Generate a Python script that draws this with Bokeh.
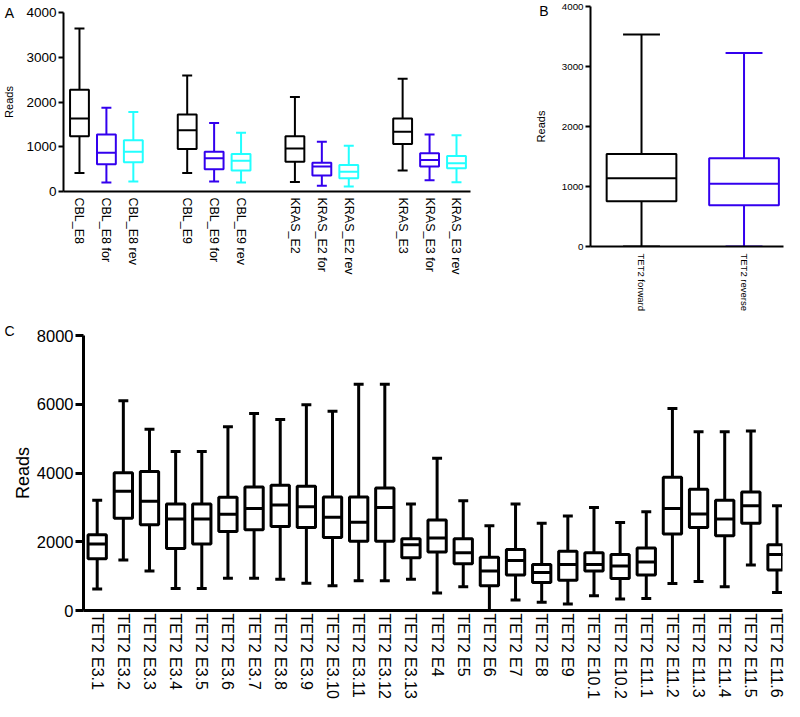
import numpy as np
from bokeh.plotting import figure
from bokeh.models import ColumnDataSource, FixedTicker, Range1d, GridBox
from bokeh.core.properties import value
from bokeh.layouts import column, row
from bokeh.embed import file_html
from bokeh.resources import INLINE

FONT = "Liberation Sans"

# ---------------- Panel A data ----------------
a_labels = ["CBL_E8", "CBL_E8 for", "CBL_E8 rev",
            "CBL_E9", "CBL_E9 for", "CBL_E9 rev",
            "KRAS_E2", "KRAS_E2 for", "KRAS_E2 rev",
            "KRAS_E3", "KRAS_E3 for", "KRAS_E3 rev"]
a_low = [415, 200, 222, 415, 222, 200, 215, 126, 111, 467, 252, 207]
a_q1 = [1237, 607, 652, 948, 496, 467, 667, 356, 296, 1059, 556, 519]
a_med = [1630, 867, 889, 1370, 741, 689, 963, 556, 444, 1333, 704, 630]
a_q3 = [2274, 1274, 1148, 1719, 889, 837, 1237, 644, 593, 1630, 852, 793]
a_high = [3644, 1874, 1778, 2593, 1533, 1311, 2111, 1111, 1022, 2519, 1274, 1259]
a_palette = ["#000000", "#3300ee", "#22ffff"]

# ---------------- Panel B data ----------------
b_labels = ["TET2 forward", "TET2 reverse"]
b_low = [0, 0]
b_q1 = [754, 688]
b_med = [1139, 1045]
b_q3 = [1541, 1469]
b_high = [3532, 3224]
b_palette = ["#000000", "#3300ee"]

# ---------------- Panel C data ----------------
c_labels = ["TET2 E3.1", "TET2 E3.2", "TET2 E3.3", "TET2 E3.4", "TET2 E3.5",
            "TET2 E3.6", "TET2 E3.7", "TET2 E3.8", "TET2 E3.9", "TET2 E3.10",
            "TET2 E3.11", "TET2 E3.12", "TET2 E3.13", "TET2 E4", "TET2 E5",
            "TET2 E6", "TET2 E7", "TET2 E8", "TET2 E9", "TET2 E10.1",
            "TET2 E10.2", "TET2 E11.1", "TET2 E11.2", "TET2 E11.3", "TET2 E11.4",
            "TET2 E11.5", "TET2 E11.6"]
c_low = [623, 1466, 1150, 642, 642, 939, 939, 910, 795, 719, 862, 862, 910,
         510, 690, 0, 307, 240, 192, 431, 335, 350, 786, 843, 690, 1322, 527]
c_q1 = [1504, 2683, 2491, 1801, 1935, 2299, 2347, 2443, 2414, 2127, 2012, 2012,
        1533, 1705, 1360, 719, 1035, 814, 881, 1150, 929, 1035, 2223, 2414,
        2175, 2539, 1178]
c_med = [1935, 3468, 3181, 2664, 2664, 2798, 2970, 3066, 3018, 2711, 2568, 2999,
         1916, 2108, 1677, 1150, 1456, 1102, 1341, 1341, 1293, 1408, 2970, 2807,
         2664, 3047, 1629]
c_q3 = [2204, 4005, 4043, 3095, 3095, 3296, 3593, 3641, 3612, 3305, 3305, 3564,
        2089, 2635, 2089, 1552, 1772, 1341, 1725, 1677, 1629, 1820, 3880, 3526,
        3210, 3449, 1916]
c_high = [3210, 6103, 5270, 4628, 4628, 5346, 5729, 5557, 5988, 5796, 6582, 6582,
          3095, 4426, 3190, 2462, 3095, 2539, 2750, 2999, 2558, 2874, 5873, 5202,
          5202, 5222, 3047]

# panel letters
panel_letters = ["A", "B", "C"]


def boxplot(p, pos, lo, q1, med, q3, hi, colors, box_w, cap_w, lw):
    pos = np.asarray(pos, dtype=float)
    src = ColumnDataSource(dict(x=pos, lo=lo, q1=q1, med=med, q3=q3, hi=hi, c=colors,
                                xl=pos - box_w / 2, xr=pos + box_w / 2,
                                cl=pos - cap_w / 2, cr=pos + cap_w / 2))
    kw = dict(line_color="c", line_width=lw, source=src)
    p.segment(x0="x", y0="q3", x1="x", y1="hi", **kw)
    p.segment(x0="x", y0="lo", x1="x", y1="q1", **kw)
    p.segment(x0="cl", y0="hi", x1="cr", y1="hi", **kw)
    p.segment(x0="cl", y0="lo", x1="cr", y1="lo", **kw)
    p.vbar(x="x", width=box_w, bottom="q1", top="q3", fill_color="white", **kw)
    p.segment(x0="xl", y0="med", x1="xr", y1="med", **kw)


def style(p, lw, tick_len, ytick_fs, xtick_fs, label_fs, label_standoff, x_standoff,
          ticks, pos, labels):
    p.xgrid.visible = False
    p.ygrid.visible = False
    p.outline_line_color = None
    p.background_fill_color = "white"
    p.border_fill_color = "white"
    for ax in (p.xaxis[0], p.yaxis[0]):
        ax.axis_line_width = lw
        ax.axis_line_color = "black"
        ax.minor_tick_line_color = None
        ax.minor_tick_out = 0
        ax.minor_tick_in = 0
        ax.major_label_text_font = FONT
        ax.major_label_text_color = "black"
    xa = p.xaxis[0]
    xa.ticker = FixedTicker(ticks=list(pos))
    xa.major_label_overrides = {float(x): l for x, l in zip(pos, labels)}
    xa.major_tick_line_color = None
    xa.major_tick_out = 0
    xa.major_tick_in = 0
    xa.major_label_orientation = "vertical"
    xa.major_label_text_font_size = xtick_fs
    xa.major_label_standoff = x_standoff
    ya = p.yaxis[0]
    ya.ticker = FixedTicker(ticks=ticks)
    ya.major_tick_line_width = lw
    ya.major_tick_line_color = "black"
    ya.major_tick_out = tick_len
    ya.major_tick_in = 0
    ya.major_label_text_font_size = ytick_fs
    ya.major_label_standoff = 2
    ya.axis_label = "Reads"
    ya.axis_label_text_font = FONT
    ya.axis_label_text_font_style = "normal"
    ya.axis_label_text_font_size = label_fs
    ya.axis_label_text_color = "black"
    ya.axis_label_standoff = label_standoff


# ---------------- Panel A ----------------
a_pos = [4 * (i // 3) + (i % 3) for i in range(len(a_labels))]
a_cols = [a_palette[i % 3] for i in range(len(a_labels))]
pA = figure(width=480, height=314, output_backend="svg", toolbar_location=None,
            x_range=Range1d(-0.593, 14.52), y_range=Range1d(0, 4000),
            min_border_left=62, min_border_right=10, min_border_top=12, min_border_bottom=123)
boxplot(pA, a_pos, a_low, a_q1, a_med, a_q3, a_high, a_cols, 0.7, 0.37, 2)
style(pA, 2, 5, "13.5px", "12.5px", "11px", 8, 6, [0, 1000, 2000, 3000, 4000], a_pos, a_labels)

# ---------------- Panel B ----------------
b_pos = list(range(len(b_labels)))
pB = figure(width=304, height=314, output_backend="svg", toolbar_location=None,
            x_range=Range1d(-0.4976, 1.385), y_range=Range1d(0, 4000),
            min_border_left=110, min_border_right=1, min_border_top=6, min_border_bottom=66)
boxplot(pB, b_pos, b_low, b_q1, b_med, b_q3, b_high, b_palette, 0.68, 0.36, 2)
style(pB, 2, 5, "9.75px", "9.5px", "11px", 12, 7, [0, 1000, 2000, 3000, 4000], b_pos, b_labels)

# ---------------- Panel C ----------------
c_pos = list(range(len(c_labels)))
pC = figure(width=784, height=387, output_backend="svg", toolbar_location=None,
            x_range=Range1d(-0.524, 26.21), y_range=Range1d(0, 8000),
            min_border_left=83, min_border_right=2, min_border_top=21, min_border_bottom=88)
boxplot(pC, c_pos, c_low, c_q1, c_med, c_q3, c_high, ["#000000"] * len(c_labels), 0.7, 0.38, 3)
style(pC, 3, 8, "16.5px", "16px", "18px", 1, 3, [0, 2000, 4000, 6000, 8000], c_pos, c_labels)

main = column(row(column(pA), column(pB)), pC)

# ---------------- transparent overlay for the panel letters ----------------
ov = figure(width=784, height=701, output_backend="svg", toolbar_location=None,
            x_range=Range1d(0, 784), y_range=Range1d(701, 0),
            x_axis_type=None, y_axis_type=None,
            min_border_left=0, min_border_right=0, min_border_top=0, min_border_bottom=0)
ov.xgrid.visible = False
ov.ygrid.visible = False
ov.outline_line_color = None
ov.background_fill_color = None
ov.border_fill_color = None
ov.text(x=[9, 543.5, 9], y=[12, 10, 330], text=panel_letters,
        text_font=value(FONT), text_font_size="14px", text_align="center",
        text_baseline="middle", text_color="black")

root = GridBox(children=[(main, 0, 0), (column(ov), 0, 0)])
open("out.html", "w").write(file_html(root, INLINE))
